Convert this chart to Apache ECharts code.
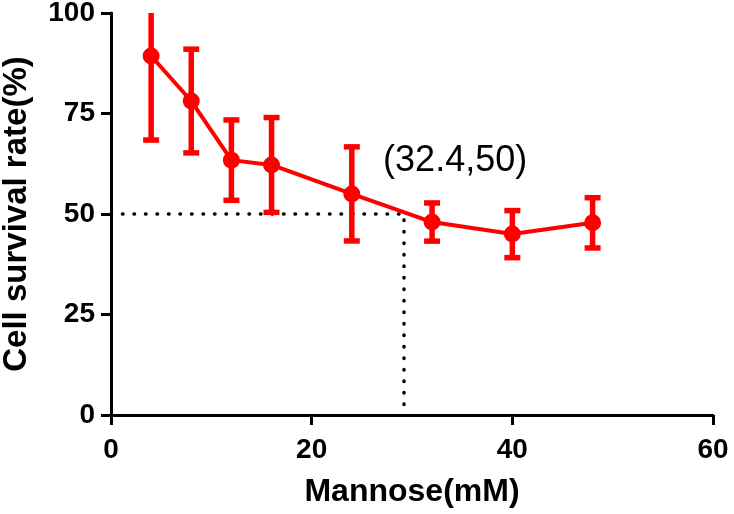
<!DOCTYPE html>
<html>
<head>
<meta charset="utf-8">
<script src="https://cdn.jsdelivr.net/npm/echarts@6/dist/echarts.min.js"></script>
<style>html,body{margin:0;padding:0;background:#fff;}#c{width:734px;height:514px;}</style>
</head>
<body>
<div id="c"></div>
<script>
const mannose = [4, 8, 12, 16, 24, 32, 40, 48];
const survival = [89.3, 78.1, 63.4, 62.2, 55.0, 48.0, 45.0, 47.8];
const sd = [20.9, 12.9, 10.0, 11.8, 11.7, 4.75, 5.85, 6.25];
const ic50Line = [[0, 50], [29.2, 50], [29.2, 0]];
const annotText = '(32.4,50)';
const annotPos = [34.3, 63.2];
const xTicks = [0, 20, 40, 60];
const yTicks = [0, 25, 50, 75, 100];

const FONT = 'Arial, "Liberation Sans", Helvetica, sans-serif';
const RED = '#ff0000';
const chart = echarts.init(document.getElementById('c'), null, {renderer: 'canvas'});
const points = mannose.map((x, i) => [x, survival[i]]);
const errData = mannose.map((x, i) => [x, survival[i] - sd[i], survival[i] + sd[i]]);

chart.setOption({
  animation: false,
  backgroundColor: '#fff',
  grid: {left: 111, right: 21, top: 13, bottom: 99, outerBoundsMode: 'none', containLabel: false},
  xAxis: {
    type: 'value', min: xTicks[0], max: xTicks[xTicks.length - 1], interval: 20,
    name: 'Mannose(mM)', nameLocation: 'middle', nameGap: 61,
    nameTextStyle: {fontFamily: FONT, fontWeight: 'bold', fontSize: 32, color: '#000'},
    axisLine: {show: true, onZero: false, lineStyle: {color: '#000', width: 3}},
    axisTick: {show: true, length: 10, lineStyle: {color: '#000', width: 3}},
    axisLabel: {fontFamily: FONT, fontWeight: 'bold', fontSize: 28, color: '#000', margin: 21},
    splitLine: {show: false}
  },
  yAxis: {
    type: 'value', min: yTicks[0], max: yTicks[yTicks.length - 1], interval: 25,
    name: 'Cell survival rate(%)', nameLocation: 'middle', nameGap: 78,
    nameTextStyle: {fontFamily: FONT, fontWeight: 'bold', fontSize: 33, color: '#000'},
    axisLine: {show: true, onZero: false, lineStyle: {color: '#000', width: 3}},
    axisTick: {show: true, length: 10, lineStyle: {color: '#000', width: 3}},
    axisLabel: {fontFamily: FONT, fontWeight: 'bold', fontSize: 28, color: '#000', margin: 16},
    splitLine: {show: false}
  },
  series: [
    {
      type: 'line', data: ic50Line, symbol: 'none', silent: true, z: 1,
      lineStyle: {color: '#000', width: 3.5, type: [0.5, 11], cap: 'round'}
    },
    {
      type: 'custom', data: errData, clip: true, z: 2,
      renderItem: function (params, api) {
        const x = api.value(0), lo = api.value(1), hi = api.value(2);
        const pLo = api.coord([x, lo]), pHi = api.coord([x, hi]);
        const w = 8;
        const st = {stroke: RED, lineWidth: 5.5};
        return {
          type: 'group',
          children: [
            {type: 'line', shape: {x1: pLo[0], y1: pLo[1], x2: pHi[0], y2: pHi[1]}, style: st},
            {type: 'line', shape: {x1: pLo[0] - w, y1: pLo[1], x2: pLo[0] + w, y2: pLo[1]}, style: st},
            {type: 'line', shape: {x1: pHi[0] - w, y1: pHi[1], x2: pHi[0] + w, y2: pHi[1]}, style: st}
          ]
        };
      }
    },
    {
      type: 'line', data: points, symbol: 'circle', symbolSize: 17, z: 3,
      itemStyle: {color: RED}, lineStyle: {color: RED, width: 4}
    },
    {
      type: 'scatter', data: [annotPos], symbolSize: 0, silent: true, z: 4,
      itemStyle: {opacity: 1, color: '#000'},
      label: {show: true, position: 'inside', formatter: annotText, opacity: 1,
        fontFamily: FONT, fontSize: 36, color: '#000', textBorderWidth: 0}
    }
  ]
});
</script>
</body>
</html>
